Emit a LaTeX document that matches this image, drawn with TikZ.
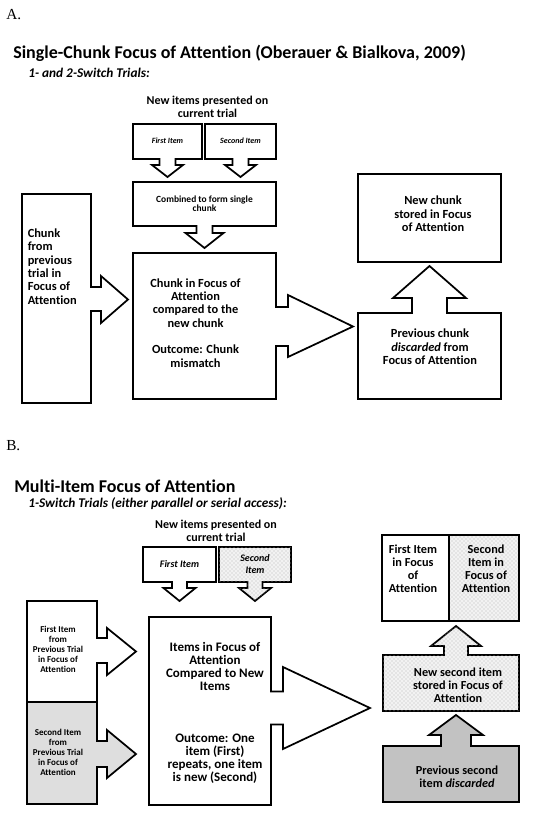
\documentclass[tikz,border=0pt]{standalone}
\usepackage{fontspec}
\setmainfont{Carlito}[Ligatures={NoCommon}]
\newfontfamily\serifA{Liberation Serif}
\usetikzlibrary{patterns}
\begin{document}
\begin{tikzpicture}[x=0.75pt,y=-0.75pt,
  callout/.style={draw=black, line width=1.3pt, line join=miter, fill=white},
  texfill/.style={fill=gray!10, postaction={pattern=crosshatch dots, pattern color=gray!55}},
  lightgray/.style={fill=black!13},
  darkgray/.style={fill=black!24},
  txt/.style={align=center, inner sep=0pt},
  labfont/.style={font=\serifA\fontsize{11.5}{13}\selectfont},
  titlefont/.style={font=\fontsize{13.5}{16}\selectfont\bfseries},
  subfont/.style={font=\fontsize{10}{12}\selectfont\bfseries\itshape},
  newfont/.style={font=\fontsize{9}{9.9}\selectfont\bfseries},
  boxfont/.style={font=\fontsize{9.3}{10}\selectfont\bfseries},
  smallfont/.style={font=\fontsize{7.1}{7.1}\selectfont\bfseries},
  tinyital/.style={font=\fontsize{6}{7}\selectfont\bfseries\itshape},
  bfontB/.style={font=\fontsize{9.75}{9.75}\selectfont\bfseries},
  sfontB/.style={font=\fontsize{6.75}{7.5}\selectfont\bfseries},
  itemB/.style={font=\fontsize{7.5}{9}\selectfont\bfseries\itshape},
  rfontB/.style={font=\fontsize{9.2}{9.75}\selectfont\bfseries}
]
\useasboundingbox (0,0) rectangle (536,813);

% ---------------- Part A ----------------
\node[labfont, anchor=base west, inner sep=0pt] (labA) at (6,20) {A.};
\node[titlefont, anchor=base west, inner sep=0pt] (titA) at (13,59) {Single-Chunk Focus of Attention (Oberauer \& Bialkova, 2009)};
\node[subfont, anchor=base west, inner sep=0pt] (subA) at (28,78) {1- and 2-Switch Trials:};
\node[newfont, txt] (newA) at (207.5,106.5) {New items presented on\\current trial};

% First item (A)
\draw[callout] (133,124) -- (202,124) -- (202,159) -- (175.5,159) -- (175.5,165) -- (183,165) -- (167.5,177) -- (152,165) -- (159.5,165) -- (159.5,159) -- (133,159) -- cycle;
\node[tinyital, txt] (firstA) at (167.5,141) {First Item};
% Second item (A)
\draw[callout] (205,124) -- (276,124) -- (276,159) -- (248.5,159) -- (248.5,165) -- (256,165) -- (240.5,177) -- (225,165) -- (232.5,165) -- (232.5,159) -- (205,159) -- cycle;
\node[tinyital, txt] (secondA) at (240.5,141) {Second Item};
% Combined
\draw[callout] (133,182) -- (276,182) -- (276,226) -- (212.5,226) -- (212.5,233) -- (223.5,233) -- (204.5,248) -- (185.5,233) -- (196.5,233) -- (196.5,226) -- (133,226) -- cycle;
\node[smallfont, txt] (combA) at (204.5,203.5) {Combined to form single\\chunk};
% Chunk from previous trial
\draw[callout] (22,194) -- (91,194) -- (91,287) -- (101,287) -- (101,276) -- (128,299.5) -- (101,323) -- (101,311) -- (91,311) -- (91,403) -- (22,403) -- cycle;
\node[boxfont, align=left, inner sep=0pt, anchor=west] (prevA) at (27.5,266.5) {Chunk\\from\\previous\\trial in\\Focus of\\Attention};
% Chunk in focus (middle)
\draw[callout] (133,253) -- (276,253) -- (276,307) -- (288,307) -- (288,295) -- (353,326.5) -- (288,357) -- (288,346) -- (276,346) -- (276,399) -- (133,399) -- cycle;
\node[boxfont, txt] (midA) at (195.5,323) {Chunk in Focus of\\Attention\\compared to the\\new chunk\\[10pt]Outcome: Chunk\\mismatch};
% New chunk stored
\draw[callout] (358,174) rectangle (501,262);
\node[boxfont, txt] (newchunk) at (433,214) {New chunk\\stored in Focus\\of Attention};
% Previous chunk discarded
\draw[callout] (358,313) -- (412,313) -- (412,298) -- (393,298) -- (429.5,266) -- (466,298) -- (447,298) -- (447,313) -- (501,313) -- (501,399) -- (358,399) -- cycle;
\node[boxfont, txt] (discA) at (430,347) {Previous chunk\\\textit{discarded} from\\Focus of Attention};

% ---------------- Part B ----------------
\node[labfont, anchor=base west, inner sep=0pt] (labB) at (6,450) {B.};
\node[titlefont, anchor=base west, inner sep=0pt] (titB) at (14,492) {Multi-Item Focus of Attention};
\node[subfont, anchor=base west, inner sep=0pt] (subB) at (28,507) {1-Switch Trials (either parallel or serial access):};
\node[newfont, txt] (newB) at (216,530.5) {New items presented on\\current trial};

% First item (B)
\draw[callout] (143,547) -- (216,547) -- (216,582) -- (187,582) -- (187,588) -- (195.5,588) -- (179.5,601) -- (163.5,588) -- (172,588) -- (172,582) -- (143,582) -- cycle;
\node[itemB, txt] (firstB) at (179.5,564.5) {First Item};
% Second item (B)
\draw[callout, texfill] (219,547) -- (291,547) -- (291,582) -- (262.5,582) -- (262.5,588) -- (271,588) -- (255,601) -- (239,588) -- (247.5,588) -- (247.5,582) -- (219,582) -- cycle;
\node[itemB, txt] (secondB) at (255,564.5) {Second\\Item};

% Left boxes (B)
\draw[callout] (27,601) -- (97,601) -- (97,638) -- (107,638) -- (107,628) -- (136,651.5) -- (107,675) -- (107,663) -- (97,663) -- (97,702) -- (27,702) -- cycle;
\node[sfontB, txt] (prev1B) at (58,649) {First Item\\from\\Previous Trial\\in Focus of\\Attention};
\draw[callout, lightgray] (27,702) -- (97,702) -- (97,741) -- (107,741) -- (107,730) -- (136,754) -- (107,778) -- (107,767) -- (97,767) -- (97,804) -- (27,804) -- cycle;
\node[sfontB, txt] (prev2B) at (58,752) {Second Item\\from\\Previous Trial\\in Focus of\\Attention};
\draw[line width=2.2pt] (26,702) -- (98,702);

% Middle box (B)
\draw[callout] (149,617) -- (271,617) -- (271,691.5) -- (283,691.5) -- (283,667) -- (370,708) -- (283,749) -- (283,724.5) -- (271,724.5) -- (271,805) -- (149,805) -- cycle;
\node[bfontB, txt] (midB1) at (215,666.5) {Items in Focus of\\Attention\\Compared to New\\Items};
\node[bfontB, txt] (midB2) at (215,758.5) {Outcome: One\\item (First)\\repeats, one item\\is new (Second)};

% Right column (B)
\path[texfill] (449,535) rectangle (519,621);
\draw[callout, fill=none] (382,535) rectangle (519,621);
\draw[line width=1.3pt] (449,535) -- (449,621);
\node[rfontB, txt] (fifB) at (413,568.5) {First Item\\in Focus\\of\\Attention};
\node[rfontB, txt] (sifB) at (486,568.5) {Second\\Item in\\Focus of\\Attention};

\draw[callout, texfill] (383,655) -- (444,655) -- (444,646) -- (431,646) -- (456,626) -- (481,646) -- (468,646) -- (468,655) -- (519,655) -- (519,711) -- (383,711) -- cycle;
\node[rfontB, txt] (storedB) at (458,685) {New second item\\stored in Focus of\\Attention};

\draw[callout, darkgray] (383,746) -- (441,746) -- (441,735) -- (429,735) -- (456,715) -- (483,735) -- (471,735) -- (471,746) -- (519,746) -- (519,802) -- (383,802) -- cycle;
\node[rfontB, txt] (discB) at (457,776.5) {Previous second\\item \textit{discarded}};
\end{tikzpicture}
\end{document}
